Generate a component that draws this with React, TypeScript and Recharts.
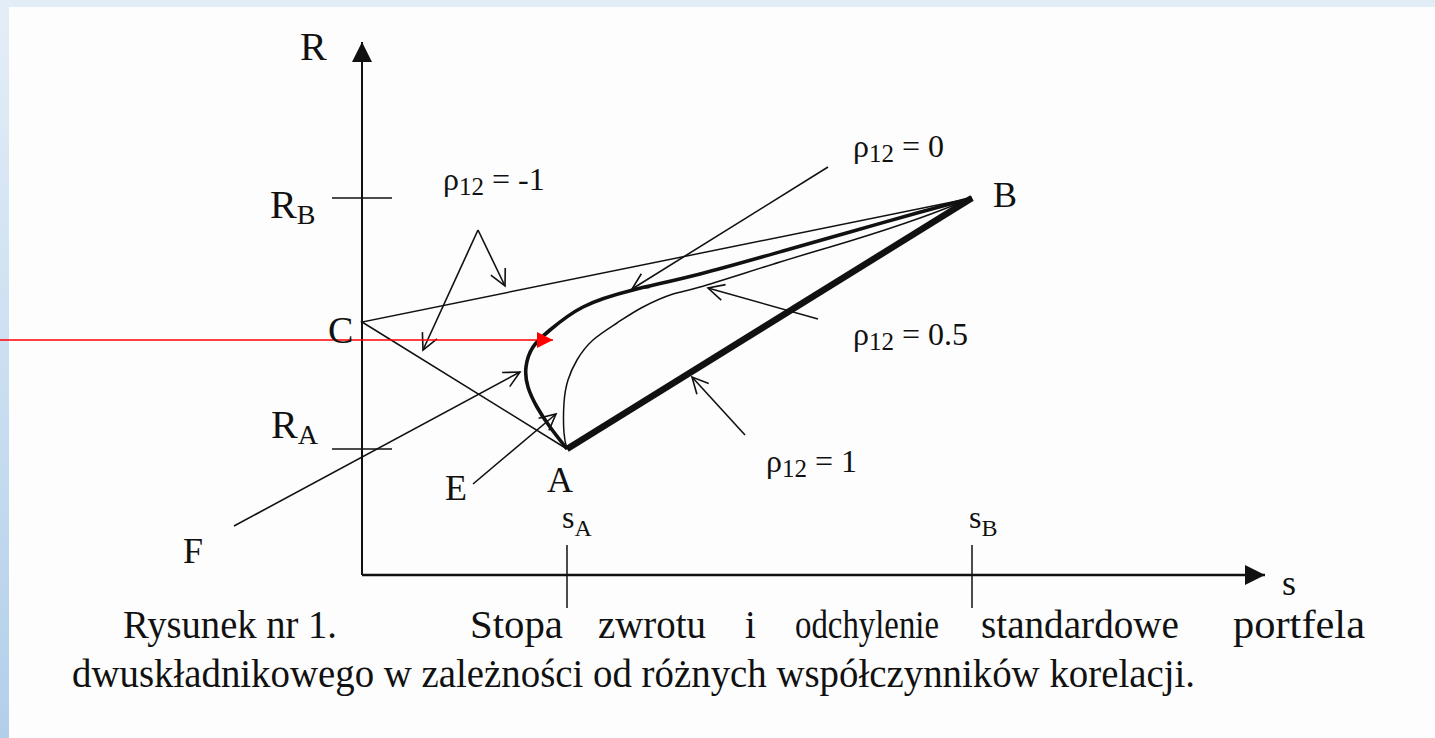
import { ComposedChart, Line, XAxis, YAxis, ReferenceLine, ReferenceDot } from 'recharts';

type Pt = { s: number; R: number };

const W = 1435;
const H = 738;
const SERIF = '"Liberation Serif", "Times New Roman", serif';
const INK = '#111';

// drawing units: s = odchylenie standardowe (x), R = stopa zwrotu (y); 0/0 = crossing of the axes
const sA = 205;
const sB = 610;
const RA = 126;
const RB = 377;
const RC = 253;

const pointA: Pt = { s: sA, R: RA };
const pointB: Pt = { s: sB, R: RB };
const pointC: Pt = { s: 0, R: RC };

const axisR: Pt[] = [{ s: 0, R: 0 }, { s: 0, R: 533 }];
const axisS: Pt[] = [{ s: 0, R: 0 }, { s: 903, R: 0 }];

// rho = -1 : broken line A -> C -> B
const rhoMinus1: Pt[] = [pointA, pointC, pointB];
// rho = 1 : straight line A -> B
const rho1: Pt[] = [pointA, pointB];
// rho = 0 (thick curve)
const rho0: Pt[] = [
  pointA,
  { s: 188, R: 148 },
  { s: 175, R: 168 },
  { s: 166, R: 188 },
  { s: 164, R: 208 },
  { s: 171, R: 228 },
  { s: 188, R: 245 },
  { s: 221, R: 268 },
  { s: 271, R: 285 },
  { s: 338, R: 301 },
  { s: 421, R: 324 },
  { s: 488, R: 343 },
  { s: 555, R: 362 },
  pointB,
];
// rho = 0.5 (thin curve)
const rho05: Pt[] = [
  pointA,
  { s: 202, R: 142 },
  { s: 202, R: 172 },
  { s: 206, R: 195 },
  { s: 215, R: 215 },
  { s: 231, R: 235 },
  { s: 255, R: 252 },
  { s: 281, R: 268 },
  { s: 311, R: 281 },
  { s: 338, R: 288 },
  { s: 418, R: 313 },
  { s: 488, R: 334 },
  { s: 558, R: 357 },
  pointB,
];

const pointers: { key: string; from: Pt; to: Pt }[] = [
  { key: 'm1a', from: { s: 116, R: 345 }, to: { s: 61, R: 225 } },
  { key: 'm1b', from: { s: 116, R: 345 }, to: { s: 143, R: 289 } },
  { key: 'r0', from: { s: 466, R: 408 }, to: { s: 270, R: 286 } },
  { key: 'r05', from: { s: 456, R: 256 }, to: { s: 346, R: 287 } },
  { key: 'r1', from: { s: 383, R: 140 }, to: { s: 330, R: 198 } },
  { key: 'F', from: { s: -128, R: 49 }, to: { s: 158, R: 203 } },
  { key: 'E', from: { s: 111, R: 91 }, to: { s: 194, R: 161 } },
];
const redPointer: Pt[] = [{ s: -362, R: 235 }, { s: 191, R: 235 }];

type TextItem = {
  key: string;
  s: number;
  R: number;
  main: string;
  sub?: string;
  rest?: string;
  size: number;
  subSize?: number;
  subDy?: number;
  width?: number;
};

const labels: TextItem[] = [
  { key: 'R', s: -62, R: 515, main: 'R', size: 40 },
  { key: 'RB', s: -92, R: 357, main: 'R', sub: 'B', size: 40, subSize: 28, subDy: 6 },
  { key: 'RA', s: -91, R: 137, main: 'R', sub: 'A', size: 40, subSize: 28, subDy: 6 },
  { key: 'C', s: -34, R: 232, main: 'C', size: 38 },
  { key: 'A', s: 185, R: 83, main: 'A', size: 36 },
  { key: 'B', s: 631, R: 368, main: 'B', size: 36 },
  { key: 'E', s: 83, R: 75, main: 'E', size: 36 },
  { key: 'F', s: -179, R: 12, main: 'F', size: 36 },
  { key: 's', s: 920, R: -20, main: 's', size: 36 },
  { key: 'sA', s: 200, R: 47, main: 's', sub: 'A', size: 32, subSize: 24, subDy: 8 },
  { key: 'sB', s: 607, R: 47, main: 's', sub: 'B', size: 32, subSize: 24, subDy: 8 },
  { key: 'p-1', s: 81, R: 385, main: 'ρ', sub: '12', rest: ' = -1', size: 32, subSize: 25, subDy: 5 },
  { key: 'p0', s: 491, R: 418, main: 'ρ', sub: '12', rest: ' = 0', size: 32, subSize: 25, subDy: 5 },
  { key: 'p05', s: 491, R: 230, main: 'ρ', sub: '12', rest: ' = 0.5', size: 32, subSize: 25, subDy: 5 },
  { key: 'p1', s: 404, R: 103, main: 'ρ', sub: '12', rest: ' = 1', size: 32, subSize: 25, subDy: 5 },
];

const captionLine1: TextItem[] = [
  { key: 'c1', s: -239, R: -63, main: 'Rysunek nr 1.', size: 39, width: 214 },
  { key: 'c2', s: 108, R: -63, main: 'Stopa', size: 39, width: 93 },
  { key: 'c3', s: 236, R: -63, main: 'zwrotu', size: 39, width: 108 },
  { key: 'c4', s: 383, R: -63, main: 'i', size: 39 },
  { key: 'c5', s: 433, R: -63, main: 'odchylenie', size: 39, width: 144 },
  { key: 'c6', s: 619, R: -63, main: 'standardowe', size: 39, width: 198 },
  { key: 'c7', s: 871, R: -63, main: 'portfela', size: 39, width: 132 },
];
const captionLine2: TextItem[] = [
  {
    key: 'c8',
    s: -290,
    R: -112,
    main: 'dwuskładnikowego w zależności od różnych współczynników korelacji.',
    size: 39,
    width: 1123,
  },
];

function SerifLabel({ cx, cy, item }: { cx?: number; cy?: number; item: TextItem }) {
  if (cx == null || cy == null) return null;
  return (
    <text
      x={cx}
      y={cy}
      fontFamily={SERIF}
      fontSize={item.size}
      fill={INK}
      textLength={item.width}
      lengthAdjust={item.width ? 'spacingAndGlyphs' : undefined}
    >
      {item.main}
      {item.sub && (
        <tspan fontSize={item.subSize} dy={item.subDy}>
          {item.sub}
        </tspan>
      )}
      {item.rest && (
        <tspan fontSize={item.size} dy={-(item.subDy ?? 0)}>
          {item.rest}
        </tspan>
      )}
    </text>
  );
}

function renderText(item: TextItem) {
  return (
    <ReferenceDot
      key={item.key}
      x={item.s}
      y={item.R}
      r={0}
      ifOverflow="visible"
      shape={(p: any) => <SerifLabel cx={p.cx} cy={p.cy} item={item} />}
    />
  );
}

export default function App() {
  return (
    <div style={{ position: 'absolute', left: 0, top: 0, width: W, height: H, background: '#FDFDFD', overflow: 'hidden' }}>
      <div style={{ position: 'absolute', left: 0, top: 0, width: 9, height: H, background: 'linear-gradient(#E4EEF8, #B2CFEA)' }} />
      <div style={{ position: 'absolute', left: 0, top: 0, width: W, height: 7, background: '#E2EDF8' }} />
      <div style={{ position: 'absolute', left: 0, top: 0 }}>
        <ComposedChart width={W} height={H} margin={{ top: 0, right: 0, bottom: 0, left: 0 }}>
          <defs>
            <marker id="solidHead" viewBox="0 0 20 20" refX={20} refY={10} markerWidth={20} markerHeight={20} markerUnits="userSpaceOnUse" orient="auto">
              <path d="M0,0 L20,10 L0,20 z" fill={INK} />
            </marker>
            <marker id="redHead" viewBox="0 0 16 16" refX={16} refY={8} markerWidth={16} markerHeight={16} markerUnits="userSpaceOnUse" orient="auto">
              <path d="M0,0 L16,8 L0,16 z" fill="#FF0000" />
            </marker>
            <marker id="openHead" viewBox="-2 -2 22 22" refX={16} refY={8} markerWidth={22} markerHeight={22} markerUnits="userSpaceOnUse" orient="auto" overflow="visible">
              <path d="M0,0 L16,8 L0,16" fill="none" stroke={INK} strokeWidth={1.6} />
            </marker>
          </defs>
          <XAxis type="number" dataKey="s" domain={[-362, 1073]} allowDataOverflow hide />
          <YAxis type="number" domain={[-163, 575]} allowDataOverflow hide />

          <ReferenceLine segment={[{ x: -30, y: RB }, { x: 30, y: RB }]} stroke={INK} strokeWidth={1.5} ifOverflow="visible" />
          <ReferenceLine segment={[{ x: -30, y: RA }, { x: 30, y: RA }]} stroke={INK} strokeWidth={1.5} ifOverflow="visible" />
          <ReferenceLine segment={[{ x: sA, y: 30 }, { x: sA, y: -33 }]} stroke={INK} strokeWidth={1.5} ifOverflow="visible" />
          <ReferenceLine segment={[{ x: sB, y: 30 }, { x: sB, y: -33 }]} stroke={INK} strokeWidth={1.5} ifOverflow="visible" />

          <Line data={axisR} dataKey="R" stroke={INK} strokeWidth={2} dot={false} activeDot={false} isAnimationActive={false} markerEnd="url(#solidHead)" />
          <Line data={axisS} dataKey="R" stroke={INK} strokeWidth={2.6} dot={false} activeDot={false} isAnimationActive={false} markerEnd="url(#solidHead)" />

          <Line data={rhoMinus1} dataKey="R" stroke={INK} strokeWidth={1.5} dot={false} activeDot={false} isAnimationActive={false} />
          <Line data={rho05} dataKey="R" type="natural" stroke={INK} strokeWidth={1.5} dot={false} activeDot={false} isAnimationActive={false} />
          <Line data={rho0} dataKey="R" type="natural" stroke={INK} strokeWidth={3.6} dot={false} activeDot={false} isAnimationActive={false} />
          <Line data={rho1} dataKey="R" stroke={INK} strokeWidth={6.5} dot={false} activeDot={false} isAnimationActive={false} />

          {pointers.map((p) => (
            <Line
              key={p.key}
              data={[p.from, p.to]}
              dataKey="R"
              stroke={INK}
              strokeWidth={1.6}
              dot={false}
              activeDot={false}
              isAnimationActive={false}
              markerEnd="url(#openHead)"
            />
          ))}
          <Line data={redPointer} dataKey="R" stroke="#FF0000" strokeWidth={1.5} dot={false} activeDot={false} isAnimationActive={false} markerEnd="url(#redHead)" />

          {labels.map(renderText)}
          {captionLine1.map(renderText)}
          {captionLine2.map(renderText)}
        </ComposedChart>
      </div>
    </div>
  );
}
